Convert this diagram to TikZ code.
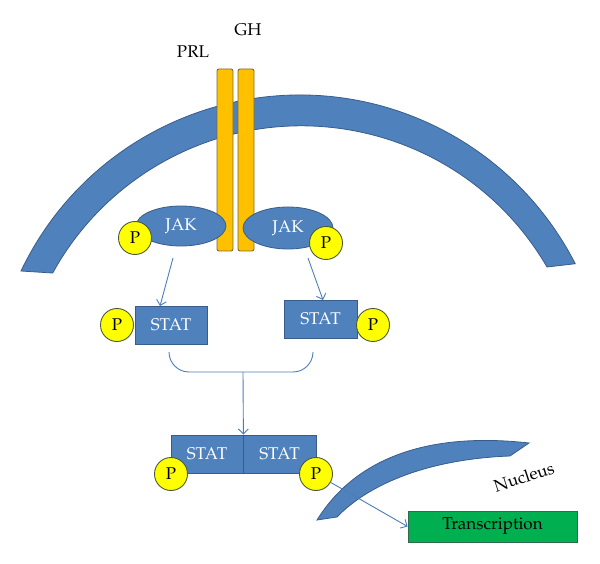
\documentclass[tikz,border=0pt]{standalone}
\usepackage[T1]{fontenc}
\usepackage{mathpazo}
\usetikzlibrary{arrows.meta,shapes.geometric}
\definecolor{bfill}{HTML}{4F81BD}
\definecolor{bdraw}{HTML}{385D8A}
\definecolor{ofill}{HTML}{FFC000}
\definecolor{odraw}{HTML}{7F6A3A}
\definecolor{pfill}{HTML}{FFFF00}
\definecolor{pdraw}{HTML}{4A5A3A}
\definecolor{gfill}{HTML}{00B050}
\definecolor{gdraw}{HTML}{2E6B4A}
\definecolor{arr}{HTML}{4A7EBB}
\tikzset{
  txt/.style={font=\fontsize{17}{20}\selectfont},
  memb/.style={fill=bfill,draw=bdraw,line width=0.8pt},
  bar/.style={rectangle,rounded corners=2pt,fill=ofill,draw=odraw,line width=0.9pt,minimum width=16pt,minimum height=182pt,inner sep=0pt},
  jak/.style={ellipse,fill=bfill,draw=bdraw,line width=0.8pt,minimum width=90pt,minimum height=40pt,inner sep=0pt,text=white,txt},
  pcirc/.style={circle,fill=pfill,draw=pdraw,line width=0.9pt,minimum size=33pt,inner sep=0pt,txt},
  statbox/.style={rectangle,fill=bfill,draw=bdraw,line width=0.8pt,minimum width=72pt,minimum height=38pt,inner sep=0pt,text=white,txt},
  conn/.style={draw=arr,line width=0.9pt},
  arrw/.style={conn,-{Straight Barb[length=5pt,width=10pt]}},
  greenbox/.style={rectangle,fill=gfill,draw=gdraw,line width=0.9pt,minimum width=169pt,minimum height=31pt,inner sep=0pt,txt}
}
\begin{document}
\begin{tikzpicture}[x=1pt,y=1pt]
\useasboundingbox (0,0) rectangle (600,563);
% cell membrane
\draw[memb] (21,292) arc[start angle=154.5, end angle=27, radius=309] -- (547,296) arc[start angle=30.2, end angle=151.2, radius=284] -- cycle;
% receptors
\node[bar] (barL) at (225,403) {};
\node[bar] (barR) at (246,403) {};
\node[txt] (prl) at (193,511) {PRL};
\node[txt] (gh) at (248,533) {GH};
% JAKs
\node[jak] (jakL) at (181,337) {JAK};
\node[jak,minimum height=42pt] (jakR) at (288,335) {JAK};
\node[pcirc] (pjL) at (135,325) {P};
\node[pcirc] (pjR) at (326,320) {P};
% STATs
\node[statbox] (statL) at (171,238) {STAT};
\node[statbox,minimum width=73pt] (statR) at (320.5,244) {STAT};
\node[pcirc] (psL) at (117,238) {P};
\node[pcirc] (psR) at (373,238) {P};
\coordinate (aLs) at (173,305);
\coordinate (aLe) at (160,257);
\coordinate (aRs) at (308,305);
\coordinate (aRe) at (323,263);
\draw[arrw] (aLs) -- (aLe);
\draw[arrw] (aRs) -- (aRe);
% bracket
\coordinate (brL) at (169,211);
\coordinate (brR) at (313,211);
\coordinate (brM) at (243,191);
\draw[conn,rounded corners=20pt] (brL) -- (169,191) -- (313,191) -- (brR);
% dimer
\node[statbox] (dimL) at (207,109) {STAT};
\node[statbox,minimum width=73pt] (dimR) at (279.5,109) {STAT};
\draw[arrw] (brM) -- (dimL.north east);
\node[pcirc] (pdL) at (171,89) {P};
\node[pcirc] (pdR) at (316,89) {P};
% nucleus
\draw[memb] (317,43) .. controls (360,112) and (440,130) .. (529,120) -- (510,107) .. controls (430,104) and (370,80) .. (337,46) -- cycle;
\node[txt,rotate=18] (nuc) at (524,86) {Nucleus};
\node[greenbox] (trans) at (492.5,36.5) {Transcription};
\draw[arrw] (pdR) -- (trans.west);
\end{tikzpicture}
\end{document}
